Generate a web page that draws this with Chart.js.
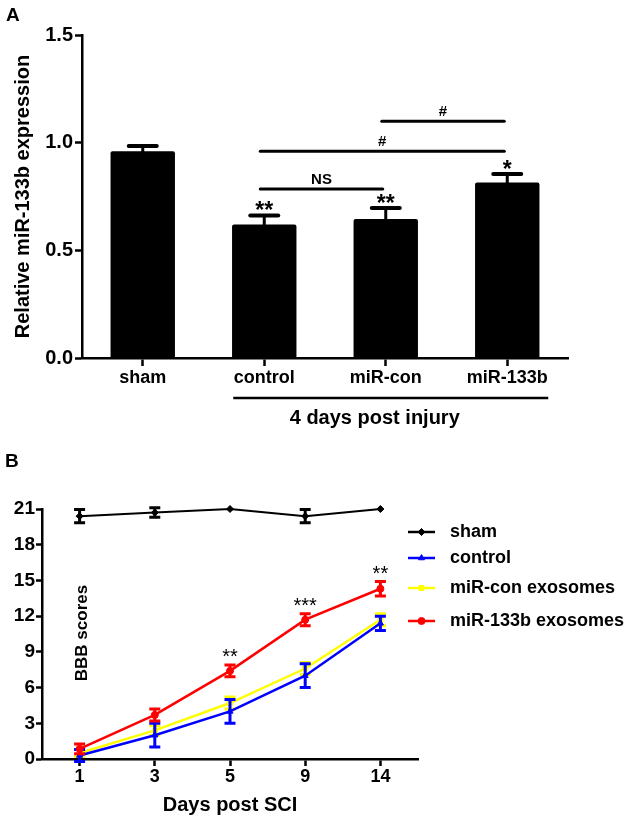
<!DOCTYPE html>
<html><head><meta charset="utf-8">
<script src="https://cdn.jsdelivr.net/npm/chart.js@4.4.1/dist/chart.umd.min.js"></script>
<style>
html,body{margin:0;padding:0;background:#fff;}
#wrap{position:relative;width:642px;height:819px;background:#fff;overflow:hidden;}
#cA{position:absolute;left:0;top:0;}
#cB{position:absolute;left:0;top:430px;}
</style></head><body>
<div id="wrap"><canvas id="cA" width="642" height="430"></canvas><canvas id="cB" width="642" height="389"></canvas></div>
<script>
// ---------- Panel A data ----------
const barCategories = ['sham', 'control', 'miR-con', 'miR-133b'];
const barValues = [0.96, 0.62, 0.645, 0.815];
const barErrors = [0.025, 0.042, 0.052, 0.04];
const barStars = ['', '**', '**', '*'];
const barYTicks = [0, 0.5, 1.0, 1.5];
const bracketFrom = [1, 1, 2];
const bracketTo = [2, 3, 3];
const bracketLevel = [0.785, 0.96, 1.10];
const bracketLabels = ['NS', '#', '#'];
const groupLabel = '4 days post injury';

// ---------- Panel B data ----------
const days = ['1', '3', '5', '9', '14'];
const lineYTicks = [0, 3, 6, 9, 12, 15, 18, 21];
const seriesNames = ['sham', 'control', 'miR-con exosomes', 'miR-133b exosomes'];
const shamScores = [20.4, 20.7, 21.0, 20.4, 21.0];
const shamErr = [0.55, 0.4, 0, 0.55, 0];
const controlScores = [0.3, 2.0, 4.0, 7.0, 11.4];
const controlErr = [0.5, 1.0, 1.0, 1.0, 0.6];
const miRconScores = [0.5, 2.4, 4.7, 7.6, 11.7];
const miRconErr = [0.3, 0.4, 0.5, 0.5, 0.5];
const miR133bScores = [0.85, 3.7, 7.4, 11.7, 14.3];
const miR133bErr = [0.4, 0.5, 0.5, 0.5, 0.6];
const lineStars = ['', '', '**', '***', '**'];

const FONT = '"Liberation Sans", Arial, Helvetica, sans-serif';
Chart.defaults.font.family = FONT;
Chart.defaults.color = '#000';

function axisGrid(len) {
  return { display: true, drawOnChartArea: false, drawTicks: true, tickLength: len, tickWidth: 2.5, tickColor: '#000', offset: false };
}

// ---------- Panel A plugin ----------
const panelAPlugin = {
  id: 'panelA',
  afterDatasetsDraw(chart) {
    const ctx = chart.ctx, xs = chart.scales.x, ys = chart.scales.y;
    const meta = chart.getDatasetMeta(0);
    ctx.save();
    ctx.strokeStyle = '#000'; ctx.fillStyle = '#000';
    meta.data.forEach((bar, i) => {
      const yTop = ys.getPixelForValue(barValues[i]);
      const yCap = ys.getPixelForValue(barValues[i] + barErrors[i]);
      ctx.lineWidth = 3; ctx.lineCap = 'butt';
      ctx.beginPath(); ctx.moveTo(bar.x, yTop + 1); ctx.lineTo(bar.x, yCap); ctx.stroke();
      ctx.lineWidth = 4; ctx.lineCap = 'round';
      ctx.beginPath(); ctx.moveTo(bar.x - 14, yCap); ctx.lineTo(bar.x + 14, yCap); ctx.stroke();
      if (barStars[i]) {
        ctx.font = 'bold 23px ' + FONT; ctx.textAlign = 'center'; ctx.textBaseline = 'alphabetic';
        ctx.fillText(barStars[i], bar.x, yCap + 3);
      }
    });
    // comparison brackets
    bracketLabels.forEach((lab, k) => {
      const x1 = xs.getPixelForValue(bracketFrom[k]) - 4;
      const x2 = xs.getPixelForValue(bracketTo[k]) - 3;
      const yy = ys.getPixelForValue(bracketLevel[k]);
      ctx.lineWidth = 3; ctx.lineCap = 'round';
      ctx.beginPath(); ctx.moveTo(x1, yy); ctx.lineTo(x2, yy); ctx.stroke();
      ctx.font = 'bold 15px ' + FONT; ctx.textAlign = 'center'; ctx.textBaseline = 'alphabetic';
      ctx.fillText(lab, (x1 + x2) / 2, yy - 5);
    });
    // group bracket below categories
    const gx1 = xs.getPixelForValue(1) - 31, gx2 = xs.getPixelForValue(3) + 41;
    ctx.lineWidth = 2.5; ctx.lineCap = 'butt';
    ctx.beginPath(); ctx.moveTo(gx1, 398); ctx.lineTo(gx2, 398); ctx.stroke();
    ctx.font = 'bold 20px ' + FONT; ctx.textAlign = 'center'; ctx.textBaseline = 'middle';
    ctx.fillText(groupLabel, (gx1 + gx2) / 2 - 16, 418);
    // panel letter
    ctx.font = 'bold 19px ' + FONT; ctx.textAlign = 'left'; ctx.textBaseline = 'alphabetic';
    ctx.fillText('A', 6, 21);
    ctx.restore();
  }
};

new Chart(document.getElementById('cA'), {
  type: 'bar',
  data: {
    labels: barCategories,
    datasets: [{ data: barValues, backgroundColor: '#000', borderWidth: 0, barPercentage: 0.53, categoryPercentage: 1.0, borderRadius: 2, borderSkipped: 'bottom' }]
  },
  options: {
    responsive: false, animation: false, devicePixelRatio: 1,
    layout: { padding: { top: 35, right: 74, left: 0, bottom: 0 } },
    plugins: { legend: { display: false }, tooltip: { enabled: false } },
    scales: {
      x: {
        grid: axisGrid(8),
        border: { display: true, color: '#000', width: 2.5 },
        ticks: { font: { size: 18, weight: 'bold' }, color: '#000', padding: 1, maxRotation: 0 },
        afterFit: s => { s.height = 72; }
      },
      y: {
        min: 0, max: 1.5,
        afterBuildTicks: s => { s.ticks = barYTicks.map(v => ({ value: v })); },
        grid: axisGrid(7),
        border: { display: true, color: '#000', width: 2.5 },
        ticks: { font: { size: 20, weight: 'bold' }, color: '#000', padding: 2, callback: v => Number(v).toFixed(1) },
        title: { display: true, text: 'Relative miR-133b expression', font: { size: 20, weight: 'bold' }, color: '#000', padding: { top: 11, bottom: 0 } },
        afterFit: s => { s.width = 82; }
      }
    }
  },
  plugins: [panelAPlugin]
});

// ---------- Panel B ----------
const seriesColors = ['#000000', '#0000ff', '#ffff00', '#ff0000'];
const seriesStyles = ['rectRot', 'triangle', 'rect', 'circle'];
const seriesData = [shamScores, controlScores, miRconScores, miR133bScores];
const seriesErr = [shamErr, controlErr, miRconErr, miR133bErr];
const seriesWidth = [2, 2.5, 2.5, 2.5];
const seriesOrder = [0, 2, 3, 1];
const legendRows = [102, 128, 158, 191];

const panelBPlugin = {
  id: 'panelB',
  afterDatasetDraw(chart, args) {
    const i = args.index;
    const ctx = chart.ctx, ys = chart.scales.y;
    const meta = args.meta;
    ctx.save();
    ctx.strokeStyle = seriesColors[i];
    meta.data.forEach((pt, j) => {
      const e = seriesErr[i][j];
      if (!e) return;
      const v = seriesData[i][j];
      const yHi = ys.getPixelForValue(v + e), yLo = ys.getPixelForValue(v - e);
      ctx.lineWidth = 3; ctx.lineCap = 'butt';
      ctx.beginPath(); ctx.moveTo(pt.x, yHi); ctx.lineTo(pt.x, yLo); ctx.stroke();
      ctx.beginPath();
      ctx.moveTo(pt.x - 5.5, yHi); ctx.lineTo(pt.x + 5.5, yHi);
      ctx.moveTo(pt.x - 5.5, yLo); ctx.lineTo(pt.x + 5.5, yLo);
      ctx.stroke();
    });
    ctx.restore();
  },
  afterDatasetsDraw(chart) {
    const ctx = chart.ctx, xs = chart.scales.x, ys = chart.scales.y;
    ctx.save();
    ctx.fillStyle = '#000';
    // significance stars above miR-133b series
    ctx.font = '20px ' + FONT; ctx.textAlign = 'center'; ctx.textBaseline = 'alphabetic';
    lineStars.forEach((s, j) => {
      if (!s) return;
      const yCap = ys.getPixelForValue(miR133bScores[j] + miR133bErr[j]);
      ctx.fillText(s, xs.getPixelForValue(j), yCap - 2);
    });
    // y-axis label inside the plot
    ctx.save();
    ctx.translate(82, 203); ctx.rotate(-Math.PI / 2);
    ctx.font = 'bold 17px ' + FONT; ctx.textAlign = 'center'; ctx.textBaseline = 'middle';
    ctx.fillText('BBB scores', 0, 0);
    ctx.restore();
    // legend
    seriesNames.forEach((name, i) => {
      const yy = legendRows[i];
      ctx.strokeStyle = seriesColors[i]; ctx.lineWidth = 2.5; ctx.lineCap = 'butt';
      ctx.beginPath(); ctx.moveTo(408, yy); ctx.lineTo(435, yy); ctx.stroke();
      ctx.fillStyle = seriesColors[i]; ctx.strokeStyle = seriesColors[i]; ctx.lineWidth = 1;
      Chart.helpers.drawPoint(ctx, { pointStyle: seriesStyles[i], radius: 3.5, rotation: 0, borderWidth: 1 }, 421.5, yy);
      ctx.fillStyle = '#000';
      ctx.font = 'bold 18px ' + FONT; ctx.textAlign = 'left'; ctx.textBaseline = 'middle';
      ctx.fillText(name, 450, yy);
    });
    // panel letter
    ctx.fillStyle = '#000';
    ctx.font = 'bold 19px ' + FONT; ctx.textAlign = 'left'; ctx.textBaseline = 'alphabetic';
    ctx.fillText('B', 5, 37);
    ctx.restore();
  }
};

new Chart(document.getElementById('cB'), {
  type: 'line',
  data: {
    labels: days,
    datasets: seriesNames.map((n, i) => ({
      label: n, data: seriesData[i],
      borderColor: seriesColors[i], backgroundColor: seriesColors[i],
      borderWidth: seriesWidth[i], pointStyle: seriesStyles[i], pointRadius: 3.5,
      pointBorderWidth: 1, tension: 0, fill: false, clip: false, order: seriesOrder[i]
    }))
  },
  options: {
    responsive: false, animation: false, devicePixelRatio: 1,
    layout: { padding: { top: 79, right: 224, left: 0, bottom: 0 } },
    plugins: { legend: { display: false }, tooltip: { enabled: false } },
    scales: {
      x: {
        offset: true,
        grid: axisGrid(7),
        border: { display: true, color: '#000', width: 2.5 },
        ticks: { font: { size: 18, weight: 'bold' }, color: '#000', padding: 0, maxRotation: 0 },
        title: { display: true, text: 'Days post SCI', font: { size: 20, weight: 'bold' }, color: '#000', padding: { top: 0, bottom: 2 } },
        afterFit: s => { s.height = 60; }
      },
      y: {
        min: 0, max: 21,
        afterBuildTicks: s => { s.ticks = lineYTicks.map(v => ({ value: v })); },
        grid: axisGrid(6),
        border: { display: true, color: '#000', width: 2.5 },
        ticks: { font: { size: 19, weight: 'bold' }, color: '#000', padding: 1 },
        afterFit: s => { s.width = 42; }
      }
    }
  },
  plugins: [panelBPlugin]
});
</script>
</body></html>
